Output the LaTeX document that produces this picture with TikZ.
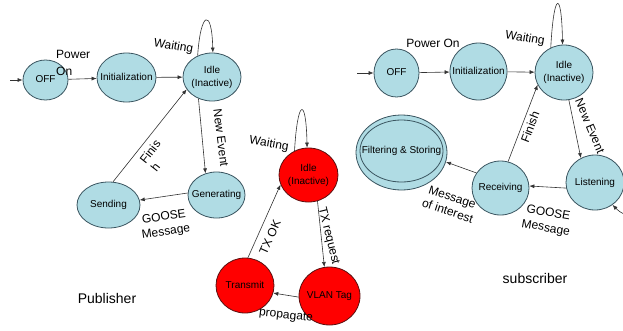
\documentclass[tikz,border=0pt]{standalone}
\usepackage{fontspec}
\setmainfont{Liberation Sans}
\usetikzlibrary{shapes.geometric,arrows.meta}
\definecolor{stblue}{HTML}{B0DCE4}
\definecolor{stline}{HTML}{3A5560}
\definecolor{stred}{HTML}{FF0000}
\definecolor{stredline}{HTML}{5A1010}
\definecolor{edgecol}{HTML}{333333}
\newcommand{\zw}[1]{\makebox[0pt]{\begin{tabular}{@{}c@{}}#1\end{tabular}}}
\begin{document}
\begin{tikzpicture}[x=1pt,y=-1pt,
  state/.style={ellipse,draw=stline,fill=stblue,line width=0.8pt,inner sep=0pt,font=\fontsize{10}{13}\selectfont},
  rstate/.style={state,fill=stred,draw=stredline},
  arr/.style={-{Latex[length=5pt,width=4pt]},draw=edgecol,line width=0.6pt},
  lbl/.style={font=\fontsize{12}{15}\selectfont,inner sep=0pt,align=center},
  title/.style={font=\fontsize{14}{16}\selectfont,inner sep=0pt}]
\useasboundingbox (0,0) rectangle (623,330);
\fill[white] (0,0) rectangle (623,330);
% Publisher
\node[state,minimum width=45pt,minimum height=40pt] (poff) at (45.5,80) {\zw{OFF}};
\node[state,minimum width=59pt,minimum height=49pt] (pinit) at (126.5,77.5) {\zw{Initialization}};
\node[state,minimum width=58pt,minimum height=48pt] (pidle) at (212,77) {\zw{Idle\\(Inactive)}};
\node[state,minimum width=57pt,minimum height=46pt] (pgen) at (216.5,195) {\zw{Generating}};
\node[state,minimum width=63pt,minimum height=46pt] (psend) at (108.5,205) {\zw{Sending}};
% Red
\node[rstate,minimum width=59pt,minimum height=54pt] (ridle) at (308.5,175) {\zw{Idle\\(Inactive)}};
\node[rstate,minimum width=58pt,minimum height=55pt] (rtrans) at (245,285.5) {\zw{Transmit}};
\node[rstate,minimum width=61pt,minimum height=58pt] (rvlan) at (329.5,296) {\zw{VLAN Tag}};
% Subscriber
\node[state,minimum width=45pt,minimum height=48pt] (soff) at (396.5,73) {\zw{OFF}};
\node[state,minimum width=57pt,minimum height=57pt] (sinit) at (478.5,71.5) {\zw{Initialization}};
\node[state,minimum width=58pt,minimum height=55pt] (sidle) at (564,72.5) {\zw{Idle\\(Inactive)}};
\node[state,minimum width=57pt,minimum height=54pt] (srecv) at (500.5,188) {\zw{Receiving}};
\node[state,minimum width=58pt,minimum height=55pt] (slisten) at (595,182.5) {\zw{Listening}};
\node[state,minimum width=91pt,minimum height=75pt] (sfilt) at (401.5,152.5) {};
\node[state,minimum width=83pt,minimum height=62pt] (sfiltin) at (401.5,151) {\zw{Filtering \& Storing}};
% Publisher edges
\coordinate (pstart) at (10,80);
\draw[arr] (pstart) -- (poff.west);
\draw[arr] (poff) -- (pinit);
\draw[arr] (pinit) -- (pidle);
\draw[arr] (pidle.238) -- (pgen.117);
\draw[arr] (pgen.176) -- (psend.9);
\draw[arr] (psend.79) -- (pidle.206);
\draw[arr] (pidle.124) .. controls +(3,-45) and +(-1,-45) .. (pidle.88);
% Red edges
\draw[arr] (ridle.120) .. controls +(3,-52) and +(-1,-52) .. (ridle.93);
\draw[arr] (rtrans.84) -- (ridle.199);
\draw[arr] (ridle.289) -- (rvlan.100);
\draw[arr] (rvlan.182) -- (rtrans.345);
% Subscriber edges
\coordinate (sstart) at (357,73);
\draw[arr] (sstart) -- (soff.west);
\draw[arr] (soff) -- (sinit);
\draw[arr] (sinit) -- (sidle);
\draw[arr] (sidle.118) .. controls +(3,-56) and +(-1,-56) .. (sidle.93);
\draw[arr] (sidle.280) -- (slisten.120);
\draw[arr] (srecv.74) -- (sidle.205);
\draw[arr] (slisten.191) -- (srecv.4);
\draw[arr] (srecv.148) -- (sfilt.348);
\draw[arr] (slisten.-15) .. controls +(30,5) and +(25,25) .. (slisten.-52);
% Labels
\node[lbl,anchor=west,align=left,font=\fontsize{12}{17}\selectfont] (lpower) at (56,62.5) {Power\\On};
\node[lbl,rotate=-10] (lpwait) at (173.5,46.5) {Waiting};
\node[lbl,rotate=-83] (lnewev) at (221,138) {New Event};
\node[lbl,rotate=52,align=left,font=\fontsize{12}{14}\selectfont] (lfinis) at (155.5,155.8) {Finis\\h};
\node[lbl,rotate=8] (lpgoose) at (165,225) {GOOSE\\Message};
\node[lbl,rotate=-10] (lrwait) at (269,144) {Waiting};
\node[lbl,rotate=66] (ltxok) at (270,237) {TX OK};
\node[lbl,rotate=-76] (ltxreq) at (328.5,236) {TX request};
\node[lbl,rotate=-6] (lprop) at (286,316) {propagate};
\node[lbl] (lspower) at (433,43.5) {Power On};
\node[lbl,rotate=-10] (lswait) at (525,38.5) {Waiting};
\node[lbl,rotate=-67] (lsnew) at (590,126) {New Event};
\node[lbl,rotate=69] (lsfin) at (530,127) {Finish};
\node[lbl,rotate=-10] (lsgoose) at (547,221) {GOOSE\\Message};
\node[lbl,rotate=-18] (lsmoi) at (450,204) {Message\\of interest};
\node[title] (lpub) at (107,298) {Publisher};
\node[title] (lsub) at (535,278) {subscriber};
\end{tikzpicture}
\end{document}
